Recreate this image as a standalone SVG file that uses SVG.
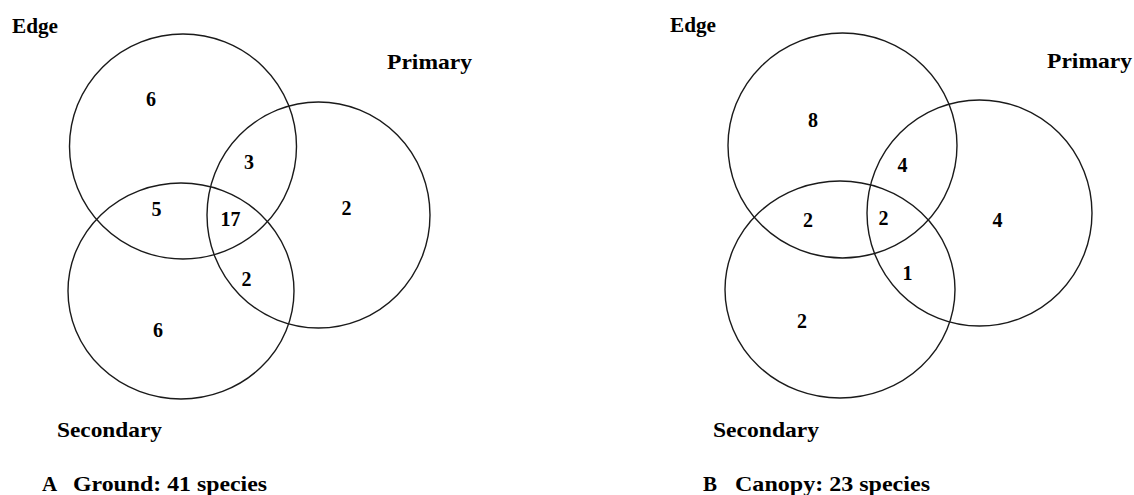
<svg xmlns="http://www.w3.org/2000/svg" width="1134" height="495" viewBox="0 0 1134 495">
<style>
.c{fill:none;stroke:#1a1a1a;stroke-width:1.4}
.t{font-family:"Liberation Serif","Times New Roman",serif;font-weight:bold;font-size:21px;fill:#000}
.n{font-family:"Liberation Serif","Times New Roman",serif;font-weight:bold;font-size:20px;fill:#000;text-anchor:middle}
</style>
<rect width="1134" height="495" fill="#fff"/>
<g id="panelA">
<g id="A-edge"><ellipse class="c" cx="183" cy="146.5" rx="113.5" ry="112.5"/><text class="t" x="12" y="33" textLength="46" lengthAdjust="spacingAndGlyphs">Edge</text></g>
<g id="A-primary"><ellipse class="c" cx="318.5" cy="215" rx="111.5" ry="113"/><text class="t" x="387" y="69" textLength="85" lengthAdjust="spacingAndGlyphs">Primary</text></g>
<g id="A-secondary"><ellipse class="c" cx="181" cy="291" rx="113" ry="108"/><text class="t" x="57" y="437" textLength="105" lengthAdjust="spacingAndGlyphs">Secondary</text></g>
<g id="A-counts">
<text class="n" x="151" y="106">6</text>
<text class="n" x="249" y="169">3</text>
<text class="n" x="156.5" y="216">5</text>
<text class="n" x="230.5" y="226">17</text>
<text class="n" x="346.5" y="215">2</text>
<text class="n" x="246.5" y="286">2</text>
<text class="n" x="158" y="337">6</text>
</g>
<g id="A-caption"><text class="t" y="491"><tspan x="42">A</tspan><tspan x="73" textLength="194" lengthAdjust="spacingAndGlyphs">Ground: 41 species</tspan></text></g>
</g>
<g id="panelB">
<g id="B-edge"><ellipse class="c" cx="842.5" cy="145.5" rx="114.5" ry="112.5"/><text class="t" x="670" y="32" textLength="46" lengthAdjust="spacingAndGlyphs">Edge</text></g>
<g id="B-primary"><ellipse class="c" cx="979.5" cy="213" rx="112.5" ry="113"/><text class="t" x="1047" y="68" textLength="85" lengthAdjust="spacingAndGlyphs">Primary</text></g>
<g id="B-secondary"><ellipse class="c" cx="840" cy="289.5" rx="115" ry="108.5"/><text class="t" x="713" y="437" textLength="106" lengthAdjust="spacingAndGlyphs">Secondary</text></g>
<g id="B-counts">
<text class="n" x="813" y="127">8</text>
<text class="n" x="902.5" y="172">4</text>
<text class="n" x="808" y="227">2</text>
<text class="n" x="883.5" y="225">2</text>
<text class="n" x="997.5" y="227">4</text>
<text class="n" x="907.5" y="280">1</text>
<text class="n" x="802" y="328">2</text>
</g>
<g id="B-caption"><text class="t" y="491"><tspan x="703">B</tspan><tspan x="735" textLength="195" lengthAdjust="spacingAndGlyphs">Canopy: 23 species</tspan></text></g>
</g>
<g id="connectors"/>
</svg>
